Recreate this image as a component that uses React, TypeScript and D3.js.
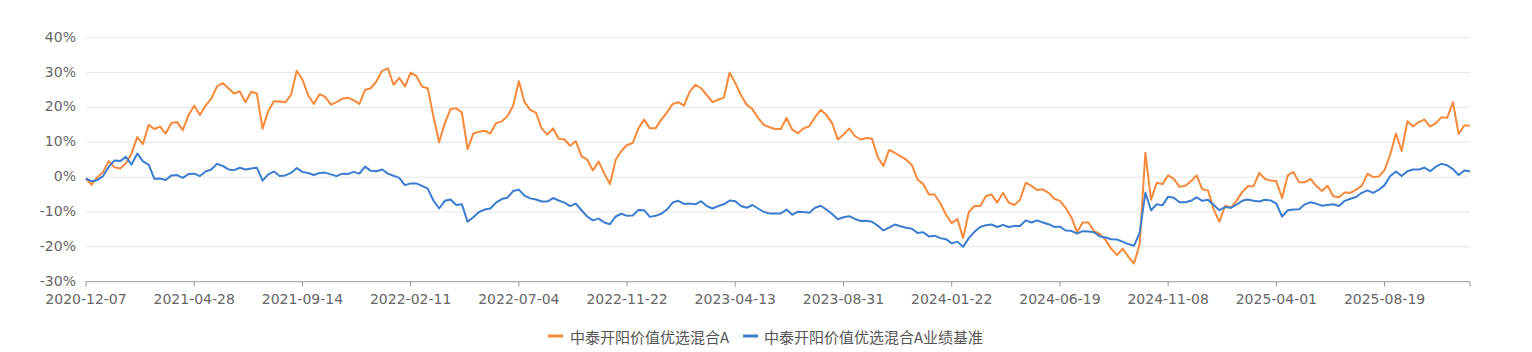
import * as d3 from "d3"

// weekly samples (every 5 trading days), cumulative return in %
const fundName = "中泰开阳价值优选混合A"
const benchName = "中泰开阳价值优选混合A业绩基准"

const fund = [
  -0.5, -2.2, 0.0, 1.5, 4.6, 2.8, 2.5, 4.0, 6.8, 11.5,
  9.5, 15.0, 13.8, 14.5, 12.5, 15.5, 15.8, 13.5, 17.8, 20.5,
  17.8, 20.5, 22.5, 26.0, 27.0, 25.5, 24.0, 24.6, 21.5, 24.5,
  24.0, 13.9, 19.0, 21.8, 21.7, 21.5, 23.6, 30.5, 28.0, 23.5,
  21.0, 23.8, 23.0, 20.8, 21.5, 22.5, 22.8, 22.0, 21.0, 25.0,
  25.5, 27.5, 30.5, 31.2, 26.5, 28.5, 26.0, 30.0, 29.0, 26.0,
  25.5, 17.4, 10.0, 15.5, 19.5, 19.8, 18.5, 8.0, 12.5, 13.0,
  13.3, 12.5, 15.5, 16.0, 17.5, 20.5, 27.5, 21.5, 19.3, 18.5,
  14.0, 12.2, 14.0, 11.0, 10.8, 9.0, 10.3, 6.0, 5.0, 1.9,
  4.5, 1.0, -2.0, 5.0, 7.5, 9.2, 9.8, 14.0, 16.5, 14.0,
  14.0, 16.5, 18.5, 21.0, 21.5, 20.5, 24.5, 26.5, 25.5, 23.5,
  21.5, 22.2, 22.8, 30.0, 27.0, 23.5, 20.8, 19.5, 17.0, 15.0,
  14.3, 13.8, 13.8, 17.0, 13.6, 12.6, 14.0, 14.6, 17.2, 19.3,
  17.8, 15.5, 10.8, 12.2, 13.9, 11.8, 10.8, 11.2, 11.0, 5.8,
  3.1, 7.8, 7.0, 6.0, 5.0, 3.5, -0.7, -2.0, -5.0, -5.0,
  -7.5, -10.8, -13.2, -12.0, -17.5, -10.0, -8.3, -8.3, -5.5, -5.0,
  -7.3, -4.5, -7.3, -8.0, -6.5, -1.6, -2.5, -3.7, -3.5, -4.5,
  -6.2, -6.8, -8.8, -11.5, -15.8, -13.0, -13.0, -15.5, -16.3, -18.0,
  -20.5, -22.4, -20.5, -22.8, -24.8, -19.3, 7.0, -6.5, -1.6, -2.0,
  0.5, -0.5, -2.8, -2.5, -1.2, 0.5, -3.5, -3.8, -9.3, -12.8,
  -8.2, -8.8, -6.8, -4.3, -2.6, -2.6, 1.2, -0.5, -1.0, -1.2,
  -6.0, 0.5, 1.5, -1.5, -1.5, -0.5, -2.5, -4.0, -2.5, -5.5,
  -5.8, -4.4, -4.5, -3.6, -2.5, 1.0, 0.0, 0.2, 2.0, 6.5,
  12.5, 7.5, 16.0, 14.5, 15.8, 16.5, 14.5, 15.5, 17.2, 17.0,
  21.5, 12.4, 14.8, 14.8,
]

const bench = [
  -0.4, -1.2, -0.8, 0.3, 3.0, 4.8, 4.6, 5.8, 3.6, 6.8,
  4.5, 3.6, -0.5, -0.4, -0.8, 0.5, 0.6, -0.2, 0.9, 1.0,
  0.3, 1.6, 2.2, 3.8, 3.2, 2.2, 2.0, 2.7, 2.2, 2.5,
  2.7, -1.0, 0.8, 1.6, 0.3, 0.5, 1.2, 2.6, 1.5, 1.2,
  0.6, 1.2, 1.3, 0.8, 0.3, 1.0, 0.9, 1.5, 1.0, 3.0,
  1.8, 1.7, 2.2, 1.0, 0.4, -0.2, -2.3, -1.8, -1.8, -2.5,
  -3.3, -6.7, -9.0, -6.8, -6.4, -8.0, -7.8, -12.8, -11.5, -10.0,
  -9.3, -9.0, -7.3, -6.3, -5.9, -4.0, -3.6, -5.3, -6.1, -6.4,
  -7.0, -7.0, -6.0, -6.7, -7.3, -8.3, -7.6, -9.5, -11.3, -12.4,
  -11.9, -13.0, -13.5, -11.3, -10.5, -11.1, -11.0, -9.4, -9.5, -11.4,
  -11.1, -10.5, -9.3, -7.3, -6.8, -7.7, -7.6, -7.8, -6.9, -8.3,
  -9.0, -8.3, -7.8, -6.7, -6.9, -8.3, -8.8, -8.0, -9.0, -10.0,
  -10.4, -10.4, -10.4, -9.3, -10.8, -9.9, -10.0, -10.2, -8.8, -8.2,
  -9.3, -10.6, -12.1, -11.5, -11.2, -12.0, -12.6, -12.5, -12.8, -13.9,
  -15.3, -14.5, -13.6, -14.1, -14.5, -14.8, -16.0, -15.8, -17.0, -16.8,
  -17.5, -17.8, -19.0, -18.5, -20.0, -17.5, -15.7, -14.3, -13.8, -13.6,
  -14.3, -13.7, -14.3, -14.0, -14.0, -12.4, -13.0, -12.4, -13.0, -13.5,
  -14.3, -14.2, -15.3, -15.4, -16.2, -15.5, -15.6, -15.8, -17.0, -17.3,
  -17.8, -17.9, -18.5, -19.2, -19.7, -16.0, -4.5, -9.5, -7.8, -8.1,
  -5.6, -5.9, -7.2, -7.2, -6.8, -5.8, -6.8, -6.5, -8.0, -9.5,
  -8.6, -8.8, -7.9, -6.8, -6.4, -6.8, -7.0, -6.5, -6.7, -7.6,
  -11.3, -9.5, -9.3, -9.2, -7.8, -7.2, -7.6, -8.2, -8.0, -7.8,
  -8.3, -6.8, -6.2, -5.7, -4.5, -3.8, -4.5, -3.6, -2.3, 0.3,
  1.6, 0.3, 1.7, 2.2, 2.2, 2.7, 1.7, 3.0, 3.8, 3.4,
  2.3, 0.6, 1.9, 1.7,
]

// one label every 19 weekly samples
const tickLabels = [
  "2020-12-07", "2021-04-28", "2021-09-14", "2022-02-11", "2022-07-04", "2022-11-22", "2023-04-13",
  "2023-08-31", "2024-01-22", "2024-06-19", "2024-11-08", "2025-04-01", "2025-08-19",
]
const tickStep = 19
const yTicks = [-30, -20, -10, 0, 10, 20, 30, 40]

const C = { orange: "#f7893b", blue: "#3c7dd0", grid: "#e6e6e6", axis: "#9a9a9a", text: "#666", legend: "#555" }
const AXIS_FONT = '"DejaVu Sans", sans-serif'
const CJK_FONT = '"Noto Sans CJK SC", "Noto Sans", sans-serif'

export default function App() {
  const W = 1532, H = 352
  const m = { left: 86, right: 62, top: 37.7, bottom: 70.3 }
  const x = d3.scaleLinear().domain([0, fund.length - 1]).range([m.left, W - m.right])
  const y = d3.scaleLinear().domain([-30, 40]).range([H - m.bottom, m.top])
  const line = d3.line<number>().x((_, i) => x(i)).y(d => y(d))

  return (
    <div style={{ position: "absolute", left: 0, top: 0 }}>
      <svg width={W} height={H} style={{ display: "block" }}>
        <rect width={W} height={H} fill="#fff" />
        <g fontFamily={AXIS_FONT} fontSize={14} fill={C.text}>
          {yTicks.map(t => (
            <g key={t}>
              {t !== -30 && <line x1={m.left} x2={W - m.right} y1={y(t)} y2={y(t)} stroke={C.grid} strokeWidth={1} />}
              <text x={76} y={y(t) - 1} textAnchor="end" dominantBaseline="central">{t}%</text>
            </g>
          ))}
          <line x1={m.left} x2={W - m.right} y1={y(-30)} y2={y(-30)} stroke={C.axis} strokeWidth={1} />
          {tickLabels.map((lbl, i) => (
            <g key={lbl}>
              <line x1={x(i * tickStep)} x2={x(i * tickStep)} y1={y(-30)} y2={y(-30) + 5} stroke={C.axis} />
              <text x={x(i * tickStep)} y={y(-30) + 17} textAnchor="middle" dominantBaseline="central">{lbl}</text>
            </g>
          ))}
          <line x1={x(fund.length - 1)} x2={x(fund.length - 1)} y1={y(-30)} y2={y(-30) + 5} stroke={C.axis} />
        </g>
        <path d={line(fund) ?? ""} fill="none" stroke={C.orange} strokeWidth={2} strokeLinejoin="round" />
        <path d={line(bench) ?? ""} fill="none" stroke={C.blue} strokeWidth={2} strokeLinejoin="round" />
        <g fontFamily={CJK_FONT} fontSize={15} fill={C.legend}>
          <rect x={548} y={334.5} width={15} height={3} fill={C.orange} />
          <text x={570} y={336} dominantBaseline="central">{fundName}</text>
          <rect x={743} y={334.5} width={15} height={3} fill={C.blue} />
          <text x={764} y={336} dominantBaseline="central">{benchName}</text>
        </g>
      </svg>
    </div>
  )
}
